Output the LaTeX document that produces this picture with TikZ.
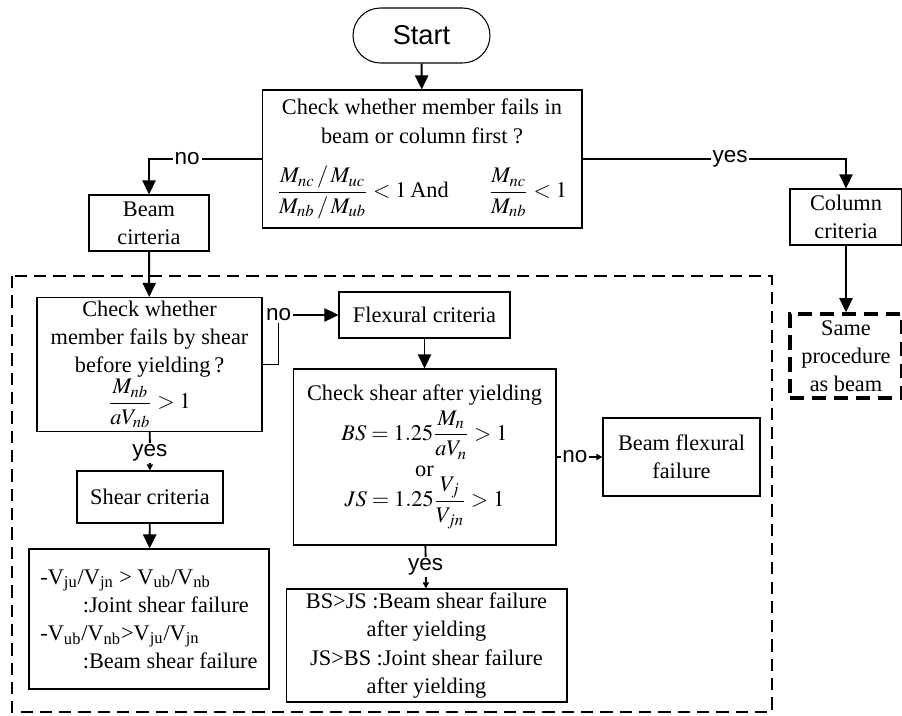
\documentclass[tikz,border=0pt]{standalone}
\usepackage{amsmath}
\usepackage{mathptmx}
\usepackage[no-math]{fontspec}
\setmainfont{Liberation Serif}
\newfontfamily\lblfont{Liberation Sans}
\usetikzlibrary{positioning, arrows.meta}
\usetikzlibrary{calc}

\begin{document}
\begin{tikzpicture}[
    x=0.02cm, y=-0.02cm,
    box/.style={rectangle, draw, line width=0.6pt, align=center, inner sep=2pt, font=\fontsize{12.7}{16}\selectfont},
    startbox/.style={rectangle, draw, line width=0.6pt, rounded corners=0.55cm, minimum width=2.74cm, minimum height=1.1cm, font=\lblfont\fontsize{15.5}{18}\selectfont},
    lbl/.style={fill=white, inner sep=1pt, font=\lblfont\fontsize{12.8}{15}\selectfont},
    arrow/.style={line width=1.1pt, -{Triangle[length=8pt, width=7.5pt]}},
    yesarrow/.style={line width=1.1pt, -{Triangle[length=3.5pt, width=3.5pt]}},
    dashbox/.style={draw, line width=1.3pt, dash pattern=on 7pt off 4pt}
  ]
    \useasboundingbox (0,0) rectangle (902,716);

    % Frame round the beam procedure
    \draw[dashbox] (12,276) rectangle (772,712);

    % Top decision
    \node[startbox] (start) at (421.5,35.5) {Start};
    \node[box, minimum width=6.4cm, minimum height=2.76cm] (check) at (422,159)
      {Check whether member fails in\\ beam or column first ?\\[12pt]
       $\dfrac{M_{nc}\,/\,M_{uc}}{M_{nb}\,/\,M_{ub}}<1$\,And\hspace{1.8em}$\dfrac{M_{nc}}{M_{nb}}<1$};

    % Branches
    \node[box, minimum width=2.4cm, minimum height=1.12cm] (beamcrit) at (149,223) {Beam\\ cirteria};
    \node[box, minimum width=2.24cm, minimum height=1.12cm] (colcrit) at (846,217) {Column\\ criteria};
    \node[box, dashbox, line width=2pt, dash pattern=on 8pt off 4.5pt, minimum width=2.24cm, minimum height=1.68cm] (same) at (846,356) {Same\\ procedure\\ as beam};

    % Beam procedure
    \node[box, minimum width=4.5cm, minimum height=2.62cm] (shearcheck) at (149.5,364.5)
      {Check whether\\ member fails by shear\\ before yielding\,?\\ $\dfrac{M_{nb}}{aV_{nb}}>1$};
    \node[box, minimum width=3.42cm, minimum height=0.92cm] (flexcrit) at (424.5,315) {Flexural criteria};
    \node[box, minimum width=5.26cm, minimum height=3.52cm] (aftercheck) at (424.5,457)
      {Check shear after yielding\\[2pt] $BS=1.25\dfrac{M_{n}}{aV_{n}}>1$\\[3pt] or\\[-1pt] $JS=1.25\dfrac{V_{j}}{V_{jn}}>1$};
    \node[box, minimum width=3.14cm, minimum height=1.56cm] (flexfail) at (681.5,457) {Beam flexural\\ failure};
    \node[box, minimum width=2.92cm, minimum height=1.04cm] (shearcrit) at (150,497) {Shear criteria};
    \node[box, align=left, minimum width=4.8cm, minimum height=2.8cm] (shearfail) at (149,619)
      {-V\textsubscript{ju}/V\textsubscript{jn} > V\textsubscript{ub}/V\textsubscript{nb}\\
       \hspace{1.9em}:Joint shear failure\\
       -V\textsubscript{ub}/V\textsubscript{nb}>V\textsubscript{ju}/V\textsubscript{jn}\\
       \hspace{1.9em}:Beam shear failure};
    \node[box, minimum width=5.62cm, minimum height=2.26cm] (yieldfail) at (426.5,645.5)
      {BS>JS :Beam shear failure\\ after yielding\\ JS>BS :Joint shear failure\\ after yielding};

    % Connections
    \draw[arrow] (start) -- (check);
    \draw[arrow] (check.west) -| node[lbl, pos=0.33] {no} (beamcrit.north);
    \draw[arrow] (check.east) -| node[lbl, pos=0.28] {yes} (colcrit.north);
    \draw[arrow] (colcrit) -- (same);
    \draw[arrow] (beamcrit) -- (shearcheck);
    \draw[arrow] (shearcheck.east) -- ++(16,0) |- node[lbl, pos=0.5] {no} (flexcrit.west);
    \draw[arrow] (flexcrit) -- (aftercheck);
    \draw[yesarrow] (aftercheck) -- node[lbl, pos=0.4] {no} (flexfail);
    \draw[yesarrow] (aftercheck) -- node[lbl] {yes} (yieldfail);
    \draw[yesarrow] (shearcheck) -- node[lbl, pos=0.55] {yes} (shearcrit);
    \draw[arrow] (shearcrit) -- (shearfail);
\end{tikzpicture}
\end{document}
